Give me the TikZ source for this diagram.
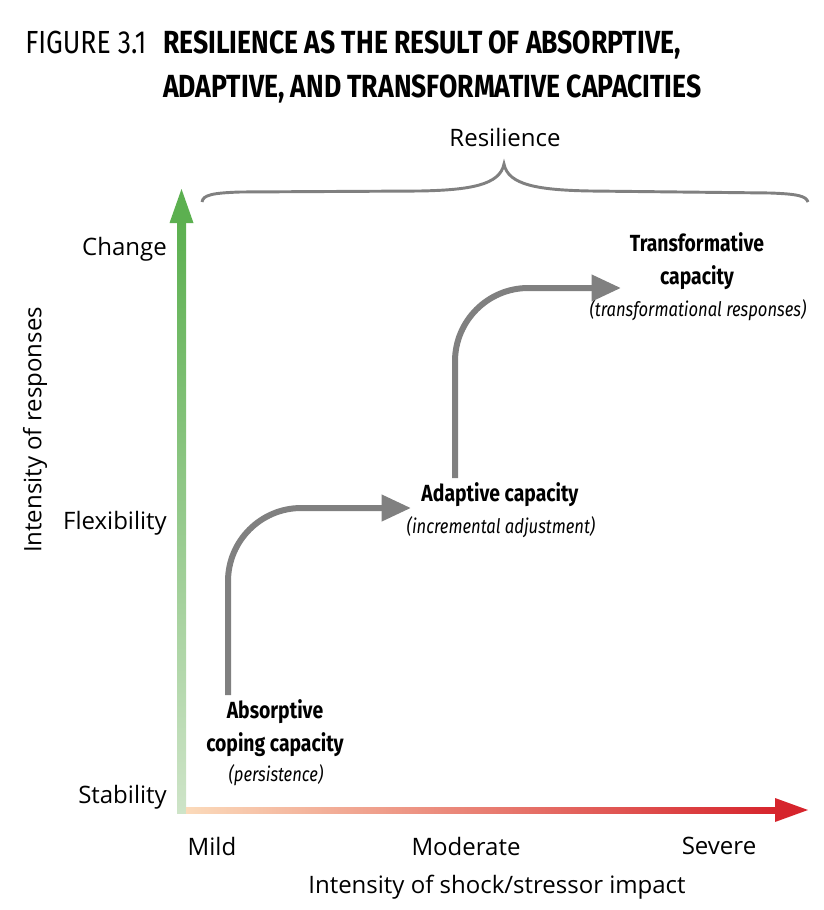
\documentclass[tikz,border=0pt]{standalone}
\usepackage{fontspec}
\setmainfont{Open Sans}
\newfontfamily\condfont[FakeStretch=0.83]{Fira Sans}
\usetikzlibrary{arrows.meta,positioning,calc}
\definecolor{FlowGray}{RGB}{128,128,128}
\definecolor{AxisGreen}{RGB}{92,176,80}
\definecolor{AxisGreenLight}{RGB}{206,228,200}
\definecolor{AxisRed}{RGB}{214,36,44}
\definecolor{AxisPeach}{RGB}{251,218,186}

\tikzset{
  flow/.style={line width=4.5pt, FlowGray, rounded corners=55pt,
    -{Triangle[length=22pt,width=19pt]}},
  axislabel/.style={font=\fontsize{18}{21}\selectfont, inner sep=0pt},
  capname/.style={font=\condfont\bfseries\fontsize{17.5}{24.5}\selectfont, align=center, inner sep=0pt},
  capnote/.style={font=\condfont\itshape\fontsize{15}{17}\selectfont, inner sep=0pt},
}

\begin{document}
\begin{tikzpicture}[x=0.75pt,y=-0.75pt]
      \useasboundingbox (0,0) rectangle (824,910);
      % title
      \node[font=\condfont\fontsize{24}{27}\selectfont, anchor=base west, inner sep=0pt] (fignum) at (25,53) {FIGURE 3.1};
      \node[font=\condfont\bfseries\fontsize{24}{27}\selectfont, anchor=base west, inner sep=0pt] (title1) at (163,53) {RESILIENCE AS THE RESULT OF ABSORPTIVE,};
      \node[font=\condfont\bfseries\fontsize{24}{27}\selectfont, anchor=base west, inner sep=0pt] (title2) at (163,97) {ADAPTIVE, AND TRANSFORMATIVE CAPACITIES};

      % brace
      \node[axislabel] (resil) at (505,137) {Resilience};
      \draw[FlowGray, line width=2.2pt] (202,202) .. controls (203,195) and (212,193) .. (240,192)
        -- (420,191) .. controls (470,190) and (500,185) .. (504,164)
        .. controls (508,185) and (538,190) .. (590,191)
        -- (770,193) .. controls (798,194) and (806,196) .. (808,202);

      % axes
      \shade[bottom color=AxisGreenLight, top color=AxisGreen] (177,813) rectangle (186,222);
      \fill[AxisGreen] (169.5,223) -- (193.5,223) -- (181.5,189) -- cycle;
      \shade[left color=AxisPeach, right color=AxisRed] (186,807) rectangle (776,813);
      \fill[AxisRed] (775,798) -- (775,822) -- (808,810) -- cycle;

      \node[axislabel, anchor=east] (change) at (167,249) {Change};
      \node[axislabel, anchor=east] (flex) at (167,523) {Flexibility};
      \node[axislabel, anchor=east] (stab) at (167,797) {Stability};
      \node[axislabel, rotate=90] (yaxis) at (35,430) {Intensity of responses};
      \node[axislabel] (mild) at (212,846) {Mild};
      \node[axislabel] (moderate) at (466,846) {Moderate};
      \node[axislabel] (severe) at (719,846) {Severe};
      \node[axislabel] (xaxis) at (497,887) {Intensity of shock/stressor impact};

      % capacities
      \node[capname] (absorb) at (275,728) {Absorptive\\coping capacity};
      \node[capnote] (absorbnote) at (276,775) {(persistence)};
      \node[capname] (adapt) at (500,495) {Adaptive capacity};
      \node[capnote] (adaptnote) at (501,527) {(incremental adjustment)};
      \node[capname] (transf) at (697,261) {Transformative\\capacity};
      \node[capnote] (transfnote) at (698,310) {(transformational responses)};

      \coordinate (s1) at (228,695);
      \coordinate (e1) at (411,508);
      \coordinate (s2) at (455,478);
      \coordinate (e2) at (621,288);
      \draw[flow] (s1) |- (e1);
      \draw[flow] (s2) |- (e2);
    \end{tikzpicture}
\end{document}
